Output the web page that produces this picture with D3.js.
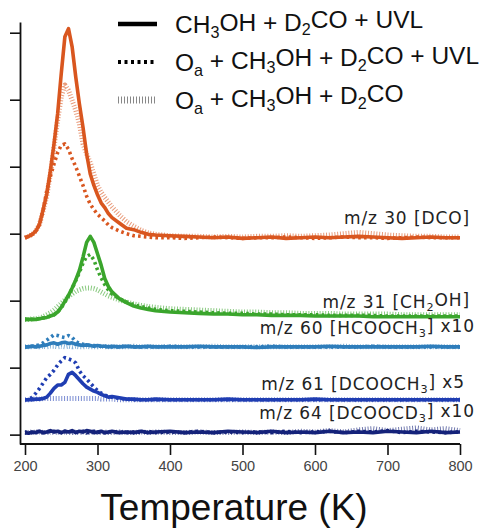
<!DOCTYPE html>
<html>
<head>
<meta charset="utf-8">
<script src="https://cdn.jsdelivr.net/npm/d3@7"></script>
<style>
  html, body { margin: 0; padding: 0; background: #fff; }
  svg { display: block; }
</style>
</head>
<body>
<svg id="chart" width="482" height="529"></svg>
<script>
// Temperature grid (K) shared by every TPD trace
const temps = [200,205,210,215,220,225,230,235,240,245,250,255,260,265,270,275,280,285,290,295,300,305,310,315,320,330,340,350,360,370,380,400,420,440,460,480,500,520,540,560,580,600,620,640,660,680,700,720,740,760,780,800];

const xTicks = [200, 300, 400, 500, 600, 700, 800];
const yTicks = [0, 1, 2, 3, 4, 5, 6];

// Vertical offsets of the stacked mass channels (arb. units)
const masses = ["m/z 30 [DCO]", "m/z 31 [CH_2OH]", "m/z 60 [HCOOCH_3] x10", "m/z 61 [DCOOCH_3] x5", "m/z 64 [DCOOCD_3] x10"];
const offsets = [2.94, 1.76, 1.31, 0.52, 0.03];
const colors = ["#d9561f", "#3aa52c", "#2e7dbb", "#1f3db2", "#14227a"];

// Experiments (legend entries)
const conditions = ["CH_3OH + D_2CO + UVL", "O_a + CH_3OH + D_2CO + UVL", "O_a + CH_3OH + D_2CO"];

// m/z 30 signals
const dcoUVL     = [0.00,0.02,0.05,0.10,0.20,0.42,0.65,1.00,1.40,1.85,2.45,3.00,3.12,2.85,2.40,2.00,1.65,1.25,0.95,0.78,0.64,0.52,0.45,0.36,0.30,0.22,0.14,0.12,0.08,0.05,0.04,0.03,0.02,0.01,0.00,0.01,-0.01,0.00,0.01,-0.01,0.00,0.01,0.00,0.01,0.02,0.01,0.00,-0.01,0.00,0.01,0.00,0.00];
const dcoOaUVL   = [0.00,0.02,0.05,0.10,0.20,0.40,0.70,0.92,1.10,1.27,1.38,1.40,1.32,1.18,1.06,0.92,0.78,0.62,0.50,0.42,0.35,0.30,0.25,0.19,0.15,0.10,0.06,0.03,0.02,0.01,0.00,0.00,-0.01,0.00,0.01,0.00,-0.01,0.00,0.00,0.01,0.00,-0.01,0.00,0.01,0.00,0.00,-0.01,0.00,0.01,0.00,0.00,0.00];
const dcoOa      = [0.00,0.02,0.05,0.10,0.20,0.40,0.62,0.95,1.35,1.75,2.10,2.28,2.20,2.05,1.90,1.70,1.40,1.25,1.12,0.95,0.78,0.68,0.60,0.53,0.46,0.34,0.24,0.17,0.11,0.07,0.05,0.03,0.02,0.02,0.01,0.02,0.01,0.02,0.02,0.03,0.02,0.03,0.04,0.06,0.08,0.06,0.04,0.03,0.02,0.02,0.01,0.01];

// m/z 31 signals
const ch2ohUVL   = [-0.04,-0.04,-0.04,-0.04,-0.03,-0.02,-0.01,0.01,0.03,0.07,0.14,0.23,0.32,0.43,0.55,0.69,0.89,1.11,1.20,1.11,0.94,0.77,0.57,0.45,0.37,0.27,0.21,0.16,0.13,0.11,0.09,0.07,0.06,0.05,0.04,0.04,0.03,0.03,0.02,0.02,0.02,0.01,0.01,0.01,0.01,0.00,0.00,0.00,0.00,0.00,0.00,0.00];
const ch2ohOaUVL = [-0.04,-0.04,-0.04,-0.03,-0.03,-0.02,-0.01,0.01,0.03,0.07,0.13,0.22,0.31,0.42,0.54,0.66,0.80,0.90,0.93,0.85,0.70,0.58,0.48,0.40,0.34,0.27,0.22,0.18,0.15,0.13,0.11,0.09,0.08,0.07,0.06,0.05,0.05,0.04,0.04,0.03,0.03,0.03,0.02,0.02,0.02,0.02,0.01,0.01,0.01,0.01,0.01,0.01];
const ch2ohOa    = [-0.04,-0.04,-0.03,-0.03,-0.02,0.00,0.03,0.06,0.10,0.15,0.20,0.25,0.30,0.34,0.38,0.40,0.42,0.43,0.43,0.42,0.40,0.37,0.34,0.31,0.29,0.25,0.22,0.19,0.17,0.15,0.14,0.12,0.11,0.10,0.09,0.08,0.07,0.07,0.06,0.06,0.05,0.05,0.05,0.04,0.04,0.04,0.04,0.03,0.03,0.03,0.03,0.03];

// m/z 60 signals (x10)
const hcoochUVL   = [0.00,0.00,0.01,0.00,0.01,0.02,0.03,0.05,0.06,0.04,0.06,0.07,0.05,0.06,0.04,0.03,0.02,0.03,0.02,0.01,0.02,0.01,0.01,0.00,0.01,0.00,0.01,0.00,0.00,0.01,0.00,0.00,0.00,0.01,0.00,0.00,0.00,-0.01,0.00,0.00,0.00,0.00,0.01,0.00,0.00,0.00,0.00,0.00,0.00,0.01,0.00,0.00];
const hcoochOaUVL = [0.00,0.00,0.01,0.02,0.03,0.06,0.10,0.14,0.18,0.17,0.15,0.14,0.17,0.14,0.08,0.05,0.04,0.03,0.02,0.02,0.01,0.01,0.01,0.00,0.00,0.00,0.01,0.00,0.00,0.00,0.00,0.01,0.00,0.00,0.00,0.00,0.00,0.00,0.01,0.00,0.00,0.00,0.00,0.00,0.00,0.01,0.00,0.00,0.00,0.00,0.00,0.00];
const hcoochOa    = [0.00,0.00,0.00,0.01,0.00,0.01,0.00,0.01,0.01,0.00,0.01,0.00,0.01,0.00,0.01,0.00,0.00,0.01,0.00,0.00,0.00,0.01,0.00,0.00,0.00,0.00,0.00,0.01,0.00,0.00,0.00,0.00,0.00,0.00,0.01,0.00,0.00,0.00,0.00,0.00,0.00,0.00,0.00,0.01,0.00,0.00,0.00,0.00,0.00,0.00,0.00,0.00];

// m/z 61 signals (x5)
const dcoochUVL   = [0.00,0.00,0.00,0.01,0.01,0.02,0.04,0.10,0.17,0.22,0.22,0.26,0.38,0.41,0.36,0.30,0.24,0.19,0.16,0.13,0.11,0.08,0.06,0.04,0.05,0.03,0.01,0.01,0.00,0.00,0.01,0.00,0.00,0.00,0.00,0.01,0.00,0.00,0.00,0.00,0.00,0.01,0.00,0.00,0.00,0.00,0.00,0.00,0.00,0.00,0.00,0.00];
const dcoochOaUVL = [0.00,0.00,0.04,0.10,0.17,0.25,0.33,0.38,0.44,0.52,0.58,0.63,0.61,0.59,0.55,0.43,0.36,0.31,0.25,0.19,0.14,0.10,0.07,0.05,0.04,0.02,0.01,0.00,0.00,0.00,0.00,0.00,0.00,0.00,0.00,0.00,0.00,0.00,0.00,0.00,0.00,0.00,0.00,0.00,0.00,0.00,0.00,0.00,0.00,0.00,0.00,0.00];
const dcoochOa    = [0.00,0.00,0.01,0.01,0.01,0.02,0.02,0.02,0.02,0.02,0.02,0.02,0.02,0.02,0.02,0.02,0.02,0.02,0.02,0.02,0.02,0.01,0.01,0.01,0.01,0.00,0.00,0.00,0.00,0.00,0.00,0.00,0.00,0.00,0.00,0.00,0.00,0.00,0.00,0.00,0.00,0.00,0.00,0.00,0.00,0.00,0.00,0.00,0.00,0.00,0.00,0.00];

// m/z 64 signals (x10)
const dcoocdUVL   = [0.00,-0.01,0.01,0.00,0.02,0.00,0.01,0.03,0.01,0.02,0.00,0.02,0.01,0.03,0.00,0.02,0.01,0.03,0.02,0.00,0.01,0.02,0.00,0.01,0.02,0.00,0.01,0.00,0.02,0.00,0.01,0.02,0.00,0.01,0.00,0.02,0.01,0.00,0.02,0.00,0.01,0.00,0.02,0.00,0.01,0.00,0.02,0.01,0.00,0.02,0.00,0.01];
const dcoocdOaUVL = [0.00,0.01,0.00,0.02,0.01,0.00,0.02,0.01,0.02,0.00,0.01,0.02,0.00,0.02,0.01,0.00,0.02,0.00,0.01,0.02,0.00,0.01,0.00,0.02,0.00,0.01,0.00,0.01,0.00,0.02,0.00,0.01,0.00,0.02,0.00,0.01,0.00,0.01,0.00,0.02,0.00,0.01,0.02,0.00,0.02,0.01,0.03,0.00,0.02,0.01,0.00,0.01];
const dcoocdOa    = [0.00,0.00,0.01,0.00,0.01,0.00,0.00,0.01,0.00,0.01,0.00,0.01,0.00,0.00,0.01,0.00,0.01,0.00,0.00,0.01,0.00,0.00,0.01,0.00,0.00,0.01,0.00,0.00,0.01,0.00,0.01,0.00,0.00,0.01,0.00,0.00,0.01,0.00,0.01,0.00,0.02,0.01,0.03,0.01,0.04,0.06,0.03,0.05,0.07,0.04,0.06,0.03];

const signals = [
  [dcoUVL, dcoOaUVL, dcoOa],
  [ch2ohUVL, ch2ohOaUVL, ch2ohOa],
  [hcoochUVL, hcoochOaUVL, hcoochOa],
  [dcoochUVL, dcoochOaUVL, dcoochOa],
  [dcoocdUVL, dcoocdOaUVL, dcoocdOa]
];

// ---------- layout ----------
const svg = d3.select("#chart");
const axisLeftX = 20;
const x = d3.scaleLinear().domain([200, 800]).range([25, 460]);
const y = d3.scaleLinear().domain([-0.14, 6.16]).range([444, 22]);

// line styles per experiment: solid, bold dots, light hatch
const styles = [
  { width: 3.6, dash: null,      opacity: 1 },
  { width: 3.6, dash: "2.6,3.2", opacity: 1 },
  { width: 5,   dash: "1,1.8",   opacity: 0.6 }
];

// build a table of traces from the arrays
const traces = [];
signals.forEach((group, m) => {
  group.forEach((vals, c) => {
    traces.push({
      mass: m, cond: c,
      points: temps.map((t, i) => [t, vals[i] + offsets[m]])
    });
  });
});

const line = d3.line().x(d => x(d[0])).y(d => y(d[1]));

// draw the hatch traces first, then bold dots, then solids on top
const order = [2, 1, 0];
const plot = svg.append("g");
order.forEach(c => {
  plot.selectAll(null)
    .data(traces.filter(t => t.cond === c))
    .join("path")
    .attr("d", d => line(d.points))
    .attr("fill", "none")
    .attr("stroke", d => colors[d.mass])
    .attr("stroke-width", styles[c].width)
    .attr("stroke-dasharray", styles[c].dash)
    .attr("stroke-opacity", styles[c].opacity)
    .attr("stroke-linejoin", "round");
});

// ---------- axes ----------
const xAxis = d3.axisBottom(x).tickValues(xTicks).tickSize(11).tickSizeOuter(0).tickPadding(6);
const gx = svg.append("g").attr("transform", `translate(0,${y.range()[0]})`).call(xAxis);
gx.select(".domain").remove();
gx.append("line")
  .attr("x1", axisLeftX).attr("x2", x.range()[1])
  .attr("stroke", "#111").attr("stroke-width", 1.8);
gx.selectAll(".tick line").attr("stroke", "#111").attr("stroke-width", 1.6);
gx.selectAll(".tick text")
  .attr("fill", "#444")
  .style("font-family", "'Liberation Sans', Arial, sans-serif")
  .style("font-size", "14.5px");

const yAxis = d3.axisLeft(y).tickValues(yTicks).tickSize(10).tickSizeOuter(0).tickFormat("");
const gy = svg.append("g").attr("transform", `translate(${axisLeftX},0)`).call(yAxis);
gy.select(".domain").attr("stroke", "#111").attr("stroke-width", 1.8);
gy.selectAll(".tick line").attr("stroke", "#111").attr("stroke-width", 1.6);

svg.append("text")
  .attr("x", 234).attr("y", 520)
  .attr("text-anchor", "middle")
  .attr("fill", "#111")
  .style("font-family", "'Liberation Sans', Arial, sans-serif")
  .style("font-size", "37px")
  .text("Temperature (K)");

// ---------- rich text with subscripts written as _x ----------
function rich(sel, str) {
  const parts = str.split(/(_[0-9a-z])/);
  let sub = false;
  parts.forEach(p => {
    if (!p) return;
    if (p[0] === "_") {
      sel.append("tspan").attr("dy", "0.3em").style("font-size", "66%").text(p.slice(1));
      sub = true;
    } else {
      sel.append("tspan").attr("dy", sub ? "-0.3em" : null).text(p);
      sub = false;
    }
  });
}

// channel labels
const labelPos = [
  { x: 470, y: 224 }, { x: 470, y: 308 }, { x: 475, y: 334 }, { x: 465, y: 390 }, { x: 475, y: 419 }
];
masses.forEach((m, i) => {
  const t = svg.append("text")
    .attr("x", labelPos[i].x).attr("y", labelPos[i].y)
    .attr("text-anchor", "end")
    .attr("fill", "#222")
    .style("font-family", "'DejaVu Sans', sans-serif")
    .style("font-size", "17px")
    .style("letter-spacing", "0.9px");
  rich(t, m);
});

// ---------- legend ----------
const legend = svg.append("g");
const legendRows = [33, 71, 109];
const legendColors = ["#000", "#000", "#888"];
conditions.forEach((c, i) => {
  const cy = legendRows[i] - 9;
  legend.append("line")
    .attr("x1", 118).attr("x2", 157).attr("y1", cy).attr("y2", cy)
    .attr("stroke", legendColors[i])
    .attr("stroke-width", i === 0 ? 4.5 : (i === 1 ? 4 : 7))
    .attr("stroke-dasharray", i === 0 ? null : (i === 1 ? "3,3.5" : "1,2"));
  const t = legend.append("text")
    .attr("x", 175).attr("y", legendRows[i])
    .attr("fill", "#111")
    .style("font-family", "'Liberation Sans', Arial, sans-serif")
    .style("font-size", "24.5px");
  rich(t, c);
});
</script>
</body>
</html>
